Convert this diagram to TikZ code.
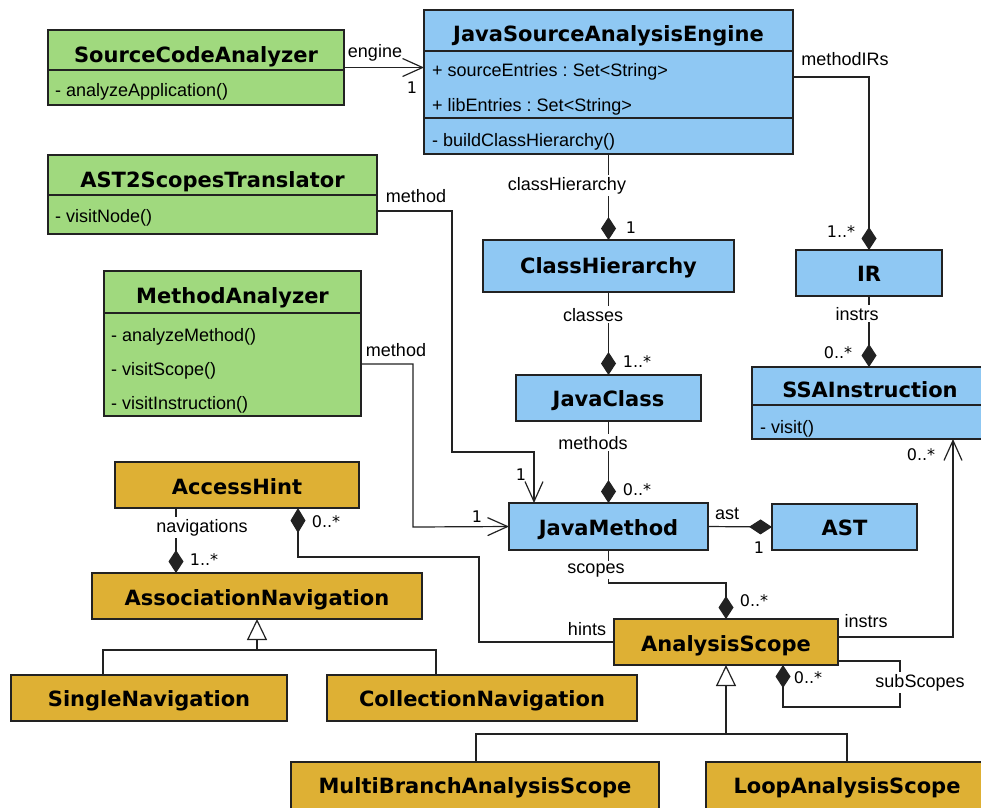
\documentclass[tikz,border=0pt]{standalone}
\usepackage{fontspec}
\setmainfont{Liberation Sans}
\newfontfamily\dejavu{DejaVu Sans}
\usetikzlibrary{arrows.meta,calc}
\frenchspacing

\definecolor{cgreen}{HTML}{A0D97E}
\definecolor{cblue}{HTML}{8FC8F3}
\definecolor{cgold}{HTML}{DEB034}
\definecolor{cedge}{HTML}{222222}

\tikzset{
  cls/.style={draw=cedge, line width=1.8pt, inner sep=0pt, outer sep=0pt},
  ttl/.style={font=\dejavu\bfseries\fontsize{21}{24}\selectfont, anchor=base, inner sep=0pt},
  attr/.style={font=\fontsize{18}{21}\selectfont, anchor=base west, inner sep=0pt},
  lbl/.style={font=\fontsize{18}{21}\selectfont, anchor=base, inner sep=0pt},
  lblw/.style={lbl, fill=white, inner sep=2pt},
  mult/.style={font=\dejavu\fontsize{16}{19}\selectfont, anchor=base, inner sep=0pt},
  conn/.style={draw=cedge, line width=1.2pt},
  navarrow/.style={conn, -{Straight Barb[length=20pt,width=18pt,line width=1.2pt]}},
  comp/.style={conn, -{Diamond[length=23pt,width=15pt]}},
  gen/.style={conn, -{Triangle[open,length=21pt,width=20pt,fill=white,line width=1.2pt]}},
}

\begin{document}
\begin{tikzpicture}[x=1pt,y=-1pt]
\useasboundingbox (0,0) rectangle (981,807);
\clip (0,0) rectangle (981,807);

% ---------- class boxes ----------
\node[cls, fill=cgreen, minimum width=296pt, minimum height=75pt]  (sca)  at (196,67.5) {};
\node[cls, fill=cblue,  minimum width=369pt, minimum height=144pt] (jsae) at (608.5,82) {};
\node[cls, fill=cgreen, minimum width=329pt, minimum height=79pt]  (ast2) at (212.5,194.5) {};
\node[cls, fill=cgreen, minimum width=257pt, minimum height=145pt] (ma)   at (232.5,343.5) {};
\node[cls, fill=cgold,  minimum width=244pt, minimum height=46pt]  (ah)   at (237,485) {};
\node[cls, fill=cgold,  minimum width=330pt, minimum height=46pt]  (an)   at (257,596) {};
\node[cls, fill=cgold,  minimum width=276pt, minimum height=46pt]  (sn)   at (149,698) {};
\node[cls, fill=cgold,  minimum width=310pt, minimum height=46pt]  (cn)   at (482,698) {};
\node[cls, fill=cblue,  minimum width=251pt, minimum height=52pt]  (ch)   at (608.5,266) {};
\node[cls, fill=cblue,  minimum width=146pt, minimum height=46pt]  (ir)   at (869,273) {};
\node[cls, fill=cblue,  minimum width=185pt, minimum height=46pt]  (jc)   at (608.5,398) {};
\node[cls, fill=cblue,  minimum width=236pt, minimum height=72pt]  (ssa)  at (870,403) {};
\node[cls, fill=cblue,  minimum width=199pt, minimum height=47pt]  (jm)   at (608.5,526.5) {};
\node[cls, fill=cblue,  minimum width=145pt, minimum height=46pt]  (ast)  at (844.5,527) {};
\node[cls, fill=cgold,  minimum width=224pt, minimum height=46pt]  (as)   at (726,642) {};
\node[cls, fill=cgold,  minimum width=368pt, minimum height=47pt]  (mb)   at (475,785.5) {};
\node[cls, fill=cgold,  minimum width=282pt, minimum height=47pt]  (loop) at (847,785.5) {};

% compartment separators
\draw[cls] (sca.west |- 0,70) -- (sca.east |- 0,70);
\draw[cls] (jsae.west |- 0,51) -- (jsae.east |- 0,51);
\draw[cls] (jsae.west |- 0,118) -- (jsae.east |- 0,118);
\draw[cls] (ast2.west |- 0,195) -- (ast2.east |- 0,195);
\draw[cls] (ma.west |- 0,313) -- (ma.east |- 0,313);
\draw[cls] (ssa.west |- 0,405) -- (ssa.east |- 0,405);

% class names
\node[ttl] (sca-t)  at (196,62.5)  {SourceCodeAnalyzer};
\node[ttl] (jsae-t) at (608.5,41)  {JavaSourceAnalysisEngine};
\node[ttl] (ast2-t) at (212.5,187) {AST2ScopesTranslator};
\node[ttl] (ma-t)   at (232.5,303) {MethodAnalyzer};
\node[ttl] (ah-t)   at (237,494)   {AccessHint};
\node[ttl] (an-t)   at (257,605)   {AssociationNavigation};
\node[ttl] (sn-t)   at (149,706)   {SingleNavigation};
\node[ttl] (cn-t)   at (482,706)   {CollectionNavigation};
\node[ttl] (ch-t)   at (608.5,273) {ClassHierarchy};
\node[ttl] (ir-t)   at (869,281)   {IR};
\node[ttl] (jc-t)   at (608.5,406) {JavaClass};
\node[ttl] (ssa-t)  at (870,397)   {SSAInstruction};
\node[ttl] (jm-t)   at (608.5,535) {JavaMethod};
\node[ttl] (ast-t)  at (844.5,535) {AST};
\node[ttl] (as-t)   at (726,651)   {AnalysisScope};
\node[ttl] (mb-t)   at (475,793)   {MultiBranchAnalysisScope};
\node[ttl] (loop-t) at (847,793)   {LoopAnalysisScope};

% members
\node[attr] (sca-a1)  at (55,96.5)  {- analyzeApplication()};
\node[attr] (jsae-a1) at (432,76)   {+ sourceEntries : Set<String>};
\node[attr] (jsae-a2) at (432,111)  {+ libEntries : Set<String>};
\node[attr] (jsae-m1) at (432,146)  {- buildClassHierarchy()};
\node[attr] (ast2-m1) at (55,222)   {- visitNode()};
\node[attr] (ma-m1)   at (111,341)  {- analyzeMethod()};
\node[attr] (ma-m2)   at (111,375)  {- visitScope()};
\node[attr] (ma-m3)   at (111,409)  {- visitInstruction()};
\node[attr] (ssa-m1)  at (760,433)  {- visit()};

% ---------- connectors ----------
\draw[navarrow] (sca.east) -- (sca.east -| jsae.west);
\draw[comp] (jsae.south) -- (ch.north);
\draw[comp] (jsae.east |- 0,77) -| (ir.north);
\draw[comp] (ch.south) -- (jc.north);
\draw[comp] (ir.south) -- (ir.south |- ssa.north);
\draw[comp] (jc.south) -- (jm.north);
\draw[navarrow] (ast2.east |- 0,211) -| (452,452) -| ([xshift=-74.5pt]jm.north);
\draw[navarrow] (ma.east |- 0,364) -| (413,527) -- (jm.west);
\draw[comp] (jm.east) -- (ast.west);
\draw[comp] (jm.south) |- ($(as.north)+(0,-36)$) -- (as.north);
\draw[navarrow] (as.east |- 0,637) -| ([xshift=83pt]ssa.south);
\draw[conn, {Diamond[length=25pt,width=15pt]}-] (ah.south -| 298,0) |- (479,557) |- (as.west);
\draw[comp] (ah.south -| 176,0) -- (an.north -| 176,0);
\draw[gen] (sn.north -| 103,0) |- ($(an.south)+(0,31)$) -- (an.south);
\draw[conn] (cn.north -| 436,0) |- ($(an.south)+(0,31)$);
\draw[gen] (mb.north -| 476,0) |- ($(as.south)+(0,69)$) -- (as.south);
\draw[conn] (loop.north) |- ($(as.south)+(0,69)$);
\draw[comp] (as.east |- 0,661) -| (900,707) -| ([xshift=57pt]as.south);

% ---------- role names and multiplicities ----------
\node[lbl]  (l-engine)  at (375,57)   {engine};
\node[mult] (m-engine)  at (412,93)   {1};
\node[lblw] (l-ch)      at (567,190)  {classHierarchy};
\node[mult] (m-ch)      at (631,233)  {1};
\node[lbl]  (l-irs)     at (845,65)   {methodIRs};
\node[mult] (m-irs)     at (841,237)  {1..*};
\node[lbl]  (l-meth1)   at (416,202)  {method};
\node[lblw] (l-classes) at (593,321)  {classes};
\node[mult] (m-classes) at (637,367)  {1..*};
\node[lblw] (l-instrs1) at (857,320)  {instrs};
\node[mult] (m-instrs1) at (838,358)  {0..*};
\node[lbl]  (l-meth2)   at (396,356)  {method};
\node[lblw] (l-methods) at (593,449)  {methods};
\node[mult] (m-methods) at (637,495)  {0..*};
\node[mult] (m-meth1)   at (521,480)  {1};
\node[mult] (m-meth2)   at (477,522)  {1};
\node[lbl]  (l-ast)     at (727,519)  {ast};
\node[mult] (m-ast)     at (759,553)  {1};
\node[mult] (m-instrs2) at (921,460)  {0..*};
\node[lblw] (l-navs)    at (202,532)  {navigations};
\node[mult] (m-hints)   at (326,527)  {0..*};
\node[mult] (m-navs)    at (204,565)  {1..*};
\node[lblw] (l-scopes)  at (596,573)  {scopes};
\node[mult] (m-scopes)  at (754,606)  {0..*};
\node[lbl]  (l-hints)   at (587,635)  {hints};
\node[lbl]  (l-instrs2) at (866,627)  {instrs};
\node[lblw] (l-sub)     at (920,687)  {subScopes};
\node[mult] (m-sub)     at (808,683)  {0..*};
\end{tikzpicture}
\end{document}
